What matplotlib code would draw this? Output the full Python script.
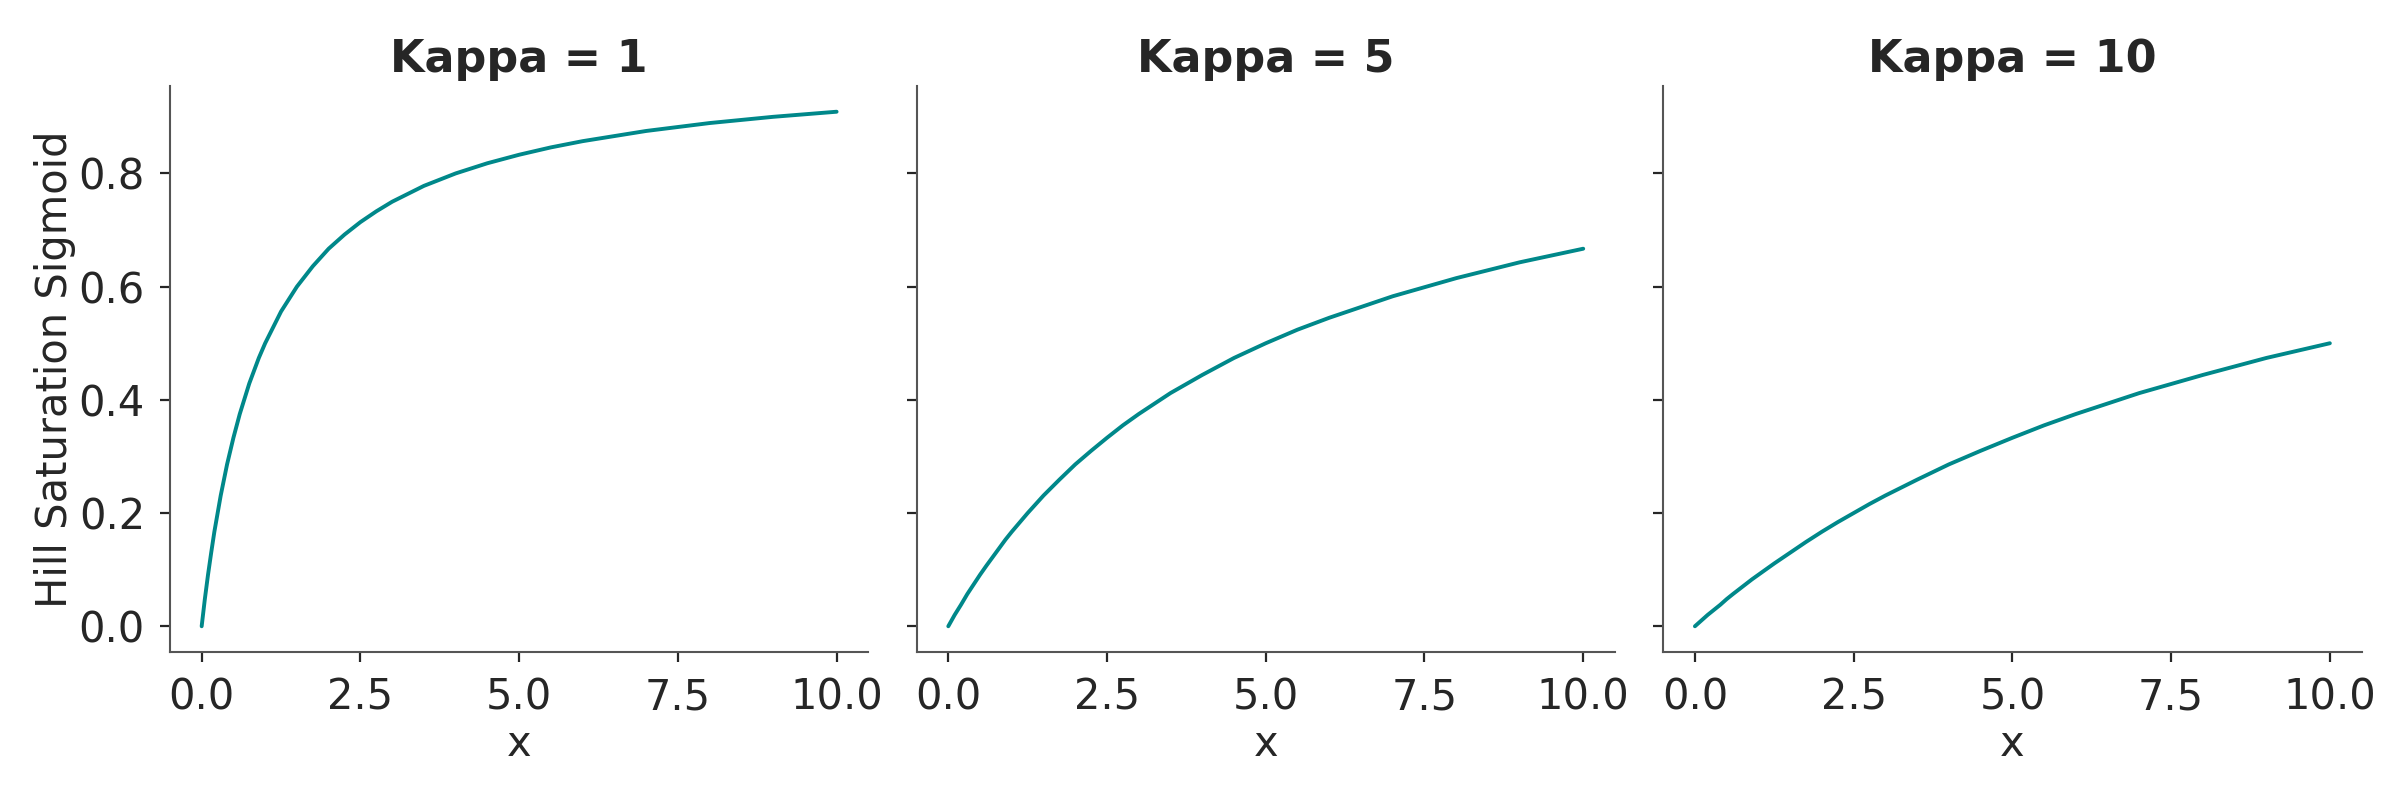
import matplotlib
matplotlib.use("Agg")
import matplotlib.pyplot as plt
import seaborn as sns

sns.set_theme(style="ticks")
plt.rcParams['font.family'] = ['DejaVu Sans']

# values
x_vals = [0, 0.05, 0.1, 0.15, 0.2, 0.3, 0.4, 0.5, 0.6, 0.75, 0.9, 1, 1.25, 1.5, 1.75, 2,
          2.25, 2.5, 2.75, 3, 3.5, 4, 4.5, 5, 5.5, 6, 7, 8, 9, 10]
kappas = [1, 5, 10]
y_k1 = [0, 0.048, 0.091, 0.13, 0.167, 0.231, 0.286, 0.333, 0.375, 0.429, 0.474, 0.5,
        0.556, 0.6, 0.636, 0.667, 0.692, 0.714, 0.733, 0.75, 0.778, 0.8, 0.818, 0.833,
        0.846, 0.857, 0.875, 0.889, 0.9, 0.909]
y_k5 = [0, 0.01, 0.02, 0.029, 0.038, 0.057, 0.074, 0.091, 0.107, 0.13, 0.153, 0.167,
        0.2, 0.231, 0.259, 0.286, 0.31, 0.333, 0.355, 0.375, 0.412, 0.444, 0.474, 0.5,
        0.524, 0.545, 0.583, 0.615, 0.643, 0.667]
y_k10 = [0, 0.005, 0.01, 0.015, 0.02, 0.029, 0.038, 0.048, 0.057, 0.07, 0.083, 0.091,
         0.111, 0.13, 0.149, 0.167, 0.184, 0.2, 0.216, 0.231, 0.259, 0.286, 0.31, 0.333,
         0.355, 0.375, 0.412, 0.444, 0.474, 0.5]
series = [y_k1, y_k5, y_k10]

fig, axes = plt.subplots(1, 3, figsize=(12, 4), dpi=200, sharey=True)
fig.subplots_adjust(left=0.0708, right=0.984, top=0.8925, bottom=0.185, wspace=0.069)

for ax, k, ys in zip(axes, kappas, series):
    ax.plot(x_vals, ys, color="#00888a", lw=1.4, solid_capstyle="round")
    ax.set_title(f"Kappa = {k}", fontweight="bold", fontsize=16, pad=5)
    ax.set_xlabel("x", fontsize=15, labelpad=1.5)
    ax.tick_params(labelsize=15, length=3.5, width=0.8, color="#262626", pad=5.5)
    ax.set_xticks([0, 2.5, 5, 7.5, 10])
    for s in ax.spines.values():
        s.set_color("#555555")
        s.set_linewidth(0.75)
    sns.despine(ax=ax)

axes[0].set_ylabel("Hill Saturation Sigmoid", fontsize=15, labelpad=1)
axes[0].set_yticks([0, 0.2, 0.4, 0.6, 0.8])

fig.savefig("out.png", dpi=200)
